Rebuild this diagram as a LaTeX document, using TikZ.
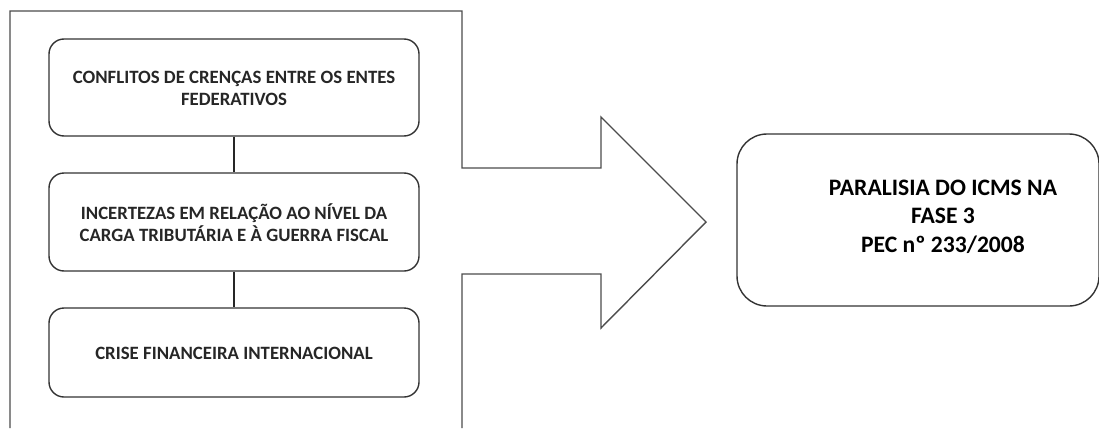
\documentclass[tikz,border=0pt]{standalone}
\usepackage{fontspec}
\setmainfont{Carlito}
\begin{document}
\begin{tikzpicture}[x=1pt,y=-1pt,
  causebox/.style={draw=black!80, line width=1.4pt, rounded corners=15pt,
    minimum width=370pt, minimum height=#1, inner sep=0pt},
  causetext/.style={font=\fontsize{18.8}{22}\selectfont\bfseries, align=center, text=black!85},
  resultbox/.style={draw=black!80, line width=1.4pt, rounded corners=30pt,
    minimum width=362pt, minimum height=172pt, inner sep=0pt},
  resulttext/.style={font=\fontsize{23.6}{28.5}\selectfont\bfseries, align=center, text=black},
  bigarrow/.style={draw=black!70, line width=1.4pt, line join=miter},
  link/.style={draw=black!85, line width=1.2pt}]
\useasboundingbox (0,0) rectangle (1099,428);

% block arrow outline, cut off at the bottom edge
\draw[bigarrow] (10,428) -- (10,11) -- (462,11) -- (462,168) -- (601,168)
  -- (601,117) -- (706,222) -- (601,328) -- (601,274) -- (462,274) -- (462,428);

% causes
\node[causebox=97pt] (c1) at (234,87.5) {};
\node[causetext] (c1t) at (234,88.5) {CONFLITOS DE CRENÇAS ENTRE OS ENTES\\FEDERATIVOS};
\node[causebox=98pt] (c2) at (234,222) {};
\node[causetext] (c2t) at (234,222.5) {INCERTEZAS EM RELAÇÃO AO NÍVEL DA\\CARGA TRIBUTÁRIA E À GUERRA FISCAL};
\node[causebox=89pt] (c3) at (234,352.5) {};
\node[causetext] (c3t) at (234,353) {CRISE FINANCEIRA INTERNACIONAL};

\draw[link] (c1.south) -- (c2.north);
\draw[link] (c2.south) -- (c3.north);

% outcome
\node[resultbox] (res) at (918,220) {};
\node[resulttext] (rest) at (943,216.5) {PARALISIA DO ICMS NA\\FASE 3\\PEC nº 233/2008};
\end{tikzpicture}
\end{document}
